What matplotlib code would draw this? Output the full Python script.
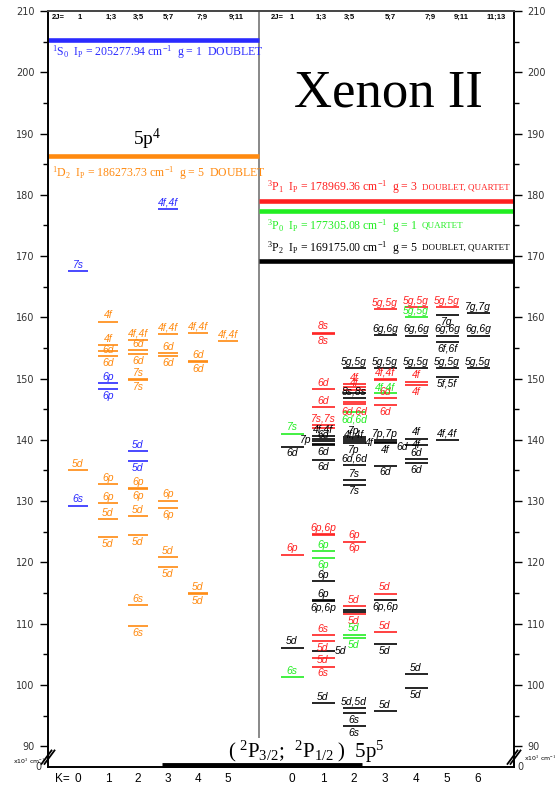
import matplotlib.pyplot as plt

plt.rcParams['mathtext.fontset'] = 'custom'
plt.rcParams['mathtext.rm'] = 'Liberation Serif'
plt.rcParams['mathtext.it'] = 'Liberation Serif:italic'

# energies in 10^3 cm^-1; K value; label over / under each level line
# left half: 5p4(1S0) core (blue) and 5p4(1D2) core (orange)
blue_k = [3, 0, 1, 1, 2, 2, 0]
blue_e = [177.7, 167.6, 149.3, 148.3, 138.1, 136.6, 129.25]
blue_top = ['4f,4f', '7s', '6p', '', '5d', '', '6s']
blue_bot = ['', '', '', '6p', '', '5d', '']

orange_k = [0,
            1, 1, 1, 1, 1, 1, 1, 1,
            2, 2, 2, 2, 2, 2, 2, 2, 2, 2, 2,
            3, 3, 3, 3, 3, 3, 3,
            4, 4, 4, 4, 4,
            5]
orange_e = [135.1,
            159.3, 155.5, 154.5, 153.7, 132.8, 129.7, 127.1, 124.1,
            156.3, 154.7, 154.0, 149.9, 149.7, 132.1, 131.9, 127.5, 124.4, 113.0, 109.6,
            157.3, 154.2, 153.7, 130.1, 128.9, 120.9, 119.2,
            157.5, 152.9, 152.7, 115.0, 114.8,
            156.2]
orange_top = ['5d',
              '4f', '4f', '', '6d', '6p', '6p', '5d', '',
              '4f,4f', '6d', '', '7s', '', '6p', '', '5d', '', '6s', '',
              '4f,4f', '6d', '', '6p', '', '5d', '',
              '4f,4f', '6d', '', '5d', '',
              '4f,4f']
orange_bot = ['',
              '', '', '', '6d', '', '', '', '5d',
              '', '', '6d', '', '7s', '', '6p', '', '5d', '', '6s',
              '', '', '6d', '', '6p', '', '5d',
              '', '', '6d', '', '5d',
              '']

# right half: 5p4(3P1) core (red), 3P0 (green), 3P2 (black)
red_k = [0,
         1, 1, 1, 1, 1, 1, 1, 1, 1, 1, 1, 1,
         2, 2, 2, 2, 2, 2, 2, 2,
         3, 3, 3, 3, 3, 3, 3,
         4, 4, 4,
         5]
red_e = [121.25,
         157.5, 157.3, 148.3, 145.35, 142.5, 142.0, 124.6, 124.4, 108.1, 107.1, 104.4, 103.0,
         149.1, 148.7, 148.2, 146.2, 145.8, 123.4, 112.9, 111.6,
         161.4, 149.9, 149.7, 146.8, 145.7, 114.9, 108.6,
         161.7, 149.5, 148.9,
         161.7]
red_top = ['6p',
           '8s', '', '6d', '6d', '7s,7s', '', '6p,6p', '', '6s', '', '', '5d',
           '4f', '', '4f', '', '', '6p', '5d', '',
           '5g,5g', '4f,4f', '', '6d', '', '5d', '5d',
           '5g,5g', '4f', '',
           '5g,5g']
red_bot = ['',
           '', '8s', '', '', '', '', '', '', '', '5d', '', '6s',
           '', '', '', '', '6d,6d', '6p', '', '5d',
           '', '', '', '', '6d', '', '',
           '', '', '4f',
           '']

green_k = [0, 0, 1, 1, 2, 2, 2, 3, 4]
green_e = [141.0, 101.3, 121.8, 120.7, 144.5, 108.2, 107.6, 147.6, 160.0]
green_top = ['7s', '6s', '6p', '', '', '5d', '', '4f,4f', '5g,5g']
green_bot = ['', '', '', '6p', '6d,6d', '', '5d', '', '']

black_k = [0, 0,
           1, 1, 1, 1, 1, 1, 1, 1, 1, 1, 1,
           2, 2, 2, 2, 2, 2, 2, 2, 2, 2, 2, 2, 2, 2, 2,
           3, 3, 3, 3, 3, 3, 3, 3, 3,
           4, 4, 4, 4, 4, 4, 4, 4,
           5, 5, 5, 5, 5, 5,
           6, 6, 6]
black_e = [138.9, 106.1,
           140.6, 140.2, 139.8, 139.4, 139.1, 136.75, 116.9, 113.9, 113.7, 105.5, 97.05,
           151.7, 147.6, 146.8, 140.4, 140.1, 139.8, 139.5, 135.9, 133.4, 132.7, 112.2, 111.9,
           96.25, 95.4, 93.25,
           157.1, 151.7, 139.9, 139.7, 139.5, 135.8, 113.8, 106.7, 95.7,
           157.0, 151.7, 140.2, 139.2, 136.8, 136.2, 101.8, 99.5,
           160.4, 157.0, 156.0, 151.7, 150.3, 140.0,
           160.7, 157.0, 151.7]
black_top = ['', '5d',
             '4f,4f', '', '6d', '', '', '', '6p', '6p', '', '', '5d',
             '5g,5g', '', '8s,8s', '7p', '', '4f,4f', '', '6d,6d', '7s', '', '', '',
             '5d,5d', '', '6s',
             '6g,6g', '5g,5g', '7p,7p', '', '', '', '', '', '5d',
             '6g,6g', '5g,5g', '4f', '', '6d', '', '5d', '',
             '', '6g,6g', '', '5g,5g', '', '4f,4f',
             '7g,7g', '6g,6g', '5g,5g']
black_bot = ['6d', '',
             '', '', '', '', '6d', '6d', '', '', '6p,6p', '', '',
             '', '', '', '', '', '', '7p', '', '', '7s', '', '',
             '', '', '6s',
             '', '', '', '', '4f', '6d', '6p,6p', '5d', '',
             '', '', '4f', '', '', '6d', '', '5d',
             '7g', '', '6f,6f', '', '5f,5f', '',
             '', '', '']
# labels written beside a level instead of over / under it
side_k = [1, 1, 3, 3]
side_e = [139.9, 105.5, 139.5, 138.9]
side_text = ['7p', '5d', '4f', '6d']
side_dir = ['left', 'right', 'left', 'right']

# series limits (ionisation thresholds), cm^-1
ip_left = [205277.94, 186273.73]
ip_right = [178969.36, 177305.08, 169175.00]

k_left = [0, 1, 2, 3, 4, 5]
k_right = [0, 1, 2, 3, 4, 5, 6]
twoj_left = ['1', '1;3', '3;5', '5;7', '7;9', '9;11']
twoj_right = ['1', '1;3', '3;5', '5;7', '7;9', '9;11', '11;13']

BLUE = '#2a2aff'
ORANGE = '#ff8a10'
RED = '#ff2020'
GREEN = '#22ee22'
BLACK = '#000000'


def xl(k):
    return 30 + 30 * k


def xr(k):
    return 244 + 31 * k


fig = plt.figure(figsize=(5.55, 7.87), dpi=100)
ax = fig.add_axes([48 / 555, 20 / 787, 466 / 555, 756 / 787])
ax.set_xlim(0, 466)
ax.set_ylim(86.6, 210)
ax.set_xticks([])
ax.set_yticks(range(90, 211, 10))
ax.set_yticks(range(95, 210, 10), minor=True)
ax.tick_params(axis='y', which='both', direction='out', right=True, labelright=True,
               labelsize=7, labelcolor='#333333', width=1)
ax.tick_params(axis='y', which='major', length=6)
ax.tick_params(axis='y', which='minor', length=3.5)
for s in ax.spines.values():
    s.set_linewidth(1.4)
ax.spines['top'].set_color('#444444')

lab_font = dict(family='Liberation Sans', style='italic', fontsize=7.5)


def draw_group(ks, es, tops, bots, color, xfun, half):
    for k, e, t, b in zip(ks, es, tops, bots):
        x = xfun(k)
        ax.plot([x - half, x + half], [e, e], color=color, lw=1.2, solid_capstyle='butt')
        if t:
            ax.text(x, e + 0.2, t, ha='center', va='bottom', color=color, **lab_font)
        if b:
            ax.text(x, e - 0.3, b, ha='center', va='top', color=color, **lab_font)


draw_group(blue_k, blue_e, blue_top, blue_bot, BLUE, xl, 10)
draw_group(orange_k, orange_e, orange_top, orange_bot, ORANGE, xl, 10)
draw_group(red_k, red_e, red_top, red_bot, RED, xr, 11.5)
draw_group(green_k, green_e, green_top, green_bot, GREEN, xr, 11.5)
draw_group(black_k, black_e, black_top, black_bot, BLACK, xr, 11.5)
for k, e, t, d in zip(side_k, side_e, side_text, side_dir):
    if d == 'left':
        ax.text(xr(k) - 11.5, e, t, ha='right', va='center', color=BLACK, **lab_font)
    else:
        ax.text(xr(k) + 11.5, e, t, ha='left', va='center', color=BLACK, **lab_font)

# divider between the two halves
ax.plot([211, 211], [91.5, 210], color='#888888', lw=1.4)

# ionisation limits
ser = dict(family='Liberation Serif', fontsize=8.5)
ax.plot([0, 211], [ip_left[0] / 1000] * 2, color=BLUE, lw=3.3, solid_capstyle='butt')
ax.plot([0, 211], [ip_left[1] / 1000] * 2, color=ORANGE, lw=3.3, solid_capstyle='butt')
ax.plot([211, 466], [ip_right[0] / 1000] * 2, color=RED, lw=3.3, solid_capstyle='butt')
ax.plot([211, 466], [ip_right[1] / 1000] * 2, color=GREEN, lw=3.3, solid_capstyle='butt')
ax.plot([211, 466], [ip_right[2] / 1000] * 2, color=BLACK, lw=3.3, solid_capstyle='butt')

ax.text(4, 203.3, r'$^1$S$_0$  I$_\mathrm{P}$ = %.2f cm$^{-1}$  g = 1  DOUBLET' % ip_left[0],
        color=BLUE, va='center', ha='left', **ser)
ax.text(4, 183.6, r'$^1$D$_2$  I$_\mathrm{P}$ = %.2f cm$^{-1}$  g = 5  DOUBLET' % ip_left[1],
        color=ORANGE, va='center', ha='left', **ser)

right_labels = [(r'$^3$P$_1$  I$_\mathrm{P}$ = %.2f cm$^{-1}$  g = 3' % ip_right[0], 181.2, RED,
                 'DOUBLET, QUARTET'),
                (r'$^3$P$_0$  I$_\mathrm{P}$ = %.2f cm$^{-1}$  g = 1' % ip_right[1], 174.9, GREEN,
                 'QUARTET'),
                (r'$^3$P$_2$  I$_\mathrm{P}$ = %.2f cm$^{-1}$  g = 5' % ip_right[2], 171.3, BLACK,
                 'DOUBLET, QUARTET')]
for txt, y, c, suf in right_labels:
    t = ax.text(219, y, txt, color=c, va='center', ha='left', **ser)
    ax.annotate(suf, xy=(1, 0.28), xycoords=t, xytext=(3, 0), textcoords='offset points',
                va='bottom', ha='left', color=c, family='Liberation Serif', fontsize=6.5)

ax.text(99, 189.0, r'5p$^4$', ha='center', va='center', family='Liberation Serif', fontsize=14)
ax.text(340, 196.6, 'Xenon II', ha='center', va='center', family='Liberation Serif', fontsize=38)
ax.text(258, 87.0, r'$(\;^2$P$_{3/2}$;  $^2$P$_{1/2}\;)$  5p$^5$', ha='center', va='bottom',
        family='Liberation Serif', fontsize=15)
# ground state
ax.plot([114, 314], [86.9, 86.9], color=BLACK, lw=3.5, solid_capstyle='butt', clip_on=False)

# 2J header row
hdr = dict(fontsize=5.5, fontweight='bold', family='Liberation Sans', ha='center', va='center')
ax.text(10, 209.0, '2J=', **hdr)
for k, s, dx in zip(k_left, twoj_left, [2, 3, 0, 0, 4, 8]):
    ax.text(xl(k) + dx, 209.0, s, **hdr)
ax.text(229, 209.0, '2J=', **hdr)
for k, s, dx in zip(k_right, twoj_right, [0, -2, -5, 5, 14, 14, 18]):
    ax.text(xr(k) + dx, 209.0, s, **hdr)

# K row under the axis
kf = dict(fontsize=8.5, family='Liberation Sans', ha='center', va='center', clip_on=False)
ax.text(14, 84.6, 'K=', **kf)
for k in k_left:
    ax.text(xl(k), 84.6, str(k), **kf)
for k in k_right:
    ax.text(xr(k), 84.6, str(k), **kf)

# axis breaks, zero labels and units
for x0 in (0, 466):
    for dx in (-1.5, 1.5):
        ax.plot([x0 - 5 + dx, x0 + 5 + dx], [87.1, 89.3], color=BLACK, lw=1.3, clip_on=False)
ax.text(-7, 86.6, '0', ha='right', va='center', fontsize=7, color='#333333', clip_on=False)
ax.text(469, 86.6, '0', ha='left', va='center', fontsize=7, color='#333333', clip_on=False)
ax.text(-3, 87.6, r'x10$^3$ cm$^{-1}$', ha='right', va='center', fontsize=4.5, clip_on=False)
ax.text(476, 88.0, r'x10$^3$ cm$^{-1}$', ha='left', va='center', fontsize=4.5, clip_on=False)

fig.savefig('out.png', dpi=100)
